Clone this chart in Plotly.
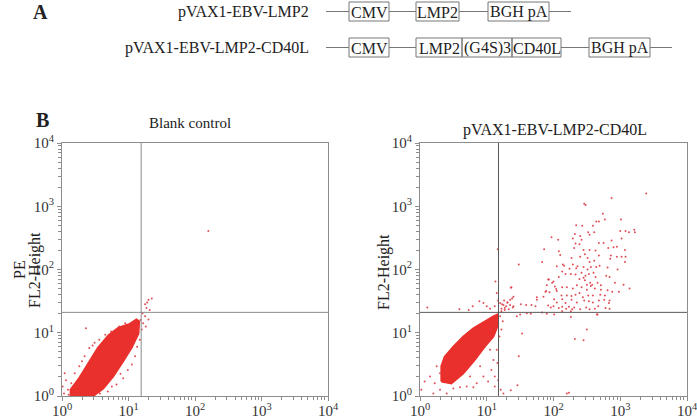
import plotly.graph_objects as go

W, H = 697, 418
SERIF = "Liberation Serif"

# ---------------- data (log10 decades of FL1 / FL2 height) ----------------
decade_ticks = [1, 10, 100, 1000, 10000]
decade_labels = ["10<sup>0</sup>", "10<sup>1</sup>", "10<sup>2</sup>", "10<sup>3</sup>", "10<sup>4</sup>"]

panel_titles = ["Blank control", "pVAX1-EBV-LMP2-CD40L"]

# quadrant gates (FL1, FL2)
gate_blank = (15.5, 21.0)
gate_cd40l = (15.0, 21.0)

# outline of the dense event cloud, blank control (log10 FL1, log10 FL2)
blank_cloud_log = [(0.13, 0.0), (0.32, 0.0), (0.47, 0.0), (0.62, 0.12), (0.77, 0.31), (0.92, 0.55),
                   (1.05, 0.77), (1.15, 0.99), (1.16, 1.18), (1.12, 1.21), (1.02, 1.14), (0.85, 1.08),
                   (0.70, 0.96), (0.54, 0.76), (0.39, 0.51), (0.25, 0.27), (0.13, 0.10)]

# sparse events, blank control
blank_events_log = [(1.25, 1.45), (1.30, 1.52), (1.35, 1.54), (1.27, 1.39), (1.21, 1.31), (1.25, 1.26),
                    (1.30, 1.21), (1.22, 1.15), (1.26, 1.10), (1.20, 1.05), (0.36, 1.07), (0.04, 0.36),
                    (0.06, 0.25), (0.01, 0.15), (0.09, 0.10), (0.03, 0.04), (0.19, 0.36), (0.26, 0.47),
                    (0.34, 0.63), (0.41, 0.76), (0.49, 0.84), (0.56, 0.89), (0.74, 1.02), (0.86, 1.10),
                    (0.99, 0.41), (0.92, 0.28), (0.82, 0.18), (0.69, 0.07), (1.10, 0.63), (1.13, 0.78),
                    (1.17, 0.89), (0.57, 0.04), (2.20, 2.61), (1.32, 1.36), (1.28, 1.48), (0.10, 0.02),
                    (0.14, 0.20), (0.30, 0.55), (0.46, 0.80), (0.65, 0.97), (0.95, 1.15), (1.05, 0.50),
                    (0.88, 0.35), (0.75, 0.15), (1.18, 1.20)]

# outline of the dense event cloud, pVAX1-EBV-LMP2-CD40L
cd40l_cloud_log = [(0.32, 0.23), (0.47, 0.20), (0.65, 0.36), (0.82, 0.57), (0.97, 0.78), (1.10, 0.94),
                   (1.17, 1.13), (1.16, 1.29), (1.10, 1.26), (0.97, 1.18), (0.80, 1.07), (0.65, 0.94),
                   (0.50, 0.78), (0.37, 0.62), (0.32, 0.47)]

# sparse events, pVAX1-EBV-LMP2-CD40L
cd40l_events_log = [
    (3.39, 3.20), (2.87, 3.13), (2.46, 3.04), (2.48, 3.02), (2.74, 2.88), (3.01, 2.79), (2.64, 2.76),
    (2.68, 2.76), (2.77, 2.79), (2.59, 2.69), (2.34, 2.70), (2.43, 2.69), (3.00, 2.61), (3.08, 2.61),
    (3.21, 2.63), (3.22, 2.59), (3.13, 2.59), (2.52, 2.59), (2.61, 2.59), (2.32, 2.56), (2.40, 2.53),
    (2.54, 2.55), (1.97, 2.51), (2.07, 2.47), (2.29, 2.49), (2.42, 2.47), (2.87, 2.46), (2.68, 2.42),
    (2.75, 2.42), (2.33, 2.41), (3.02, 2.49), (2.39, 2.40), (2.95, 2.36), (2.90, 2.35), (1.86, 2.32),
    (2.08, 2.29), (2.31, 2.34), (2.45, 2.31), (2.54, 2.31), (2.63, 2.30), (2.82, 2.34), (3.07, 2.31),
    (2.10, 2.23), (2.27, 2.18), (2.40, 2.20), (2.47, 2.24), (2.51, 2.18), (2.68, 2.22), (2.86, 2.22),
    (2.85, 2.17), (2.95, 2.20), (3.02, 2.20), (3.08, 2.20), (1.83, 2.12), (2.14, 2.08), (2.16, 2.06),
    (2.29, 2.08), (2.36, 2.05), (2.54, 2.12), (2.61, 2.14), (2.69, 2.06), (3.07, 2.12), (1.48, 2.08),
    (2.05, 2.05), (2.24, 2.01), (2.34, 2.02), (2.45, 2.04), (2.51, 2.00), (2.56, 2.04), (2.64, 2.04),
    (2.81, 2.03), (2.96, 2.00), (1.93, 1.84), (2.00, 1.81), (2.13, 1.97), (2.18, 1.93), (2.26, 1.93),
    (2.33, 1.92), (2.42, 1.95), (2.48, 1.90), (2.53, 1.93), (2.60, 1.95), (2.63, 1.88), (2.79, 1.90),
    (2.84, 1.88), (2.08, 1.88), (2.39, 1.85), (2.45, 1.87), (2.47, 1.83), (2.55, 1.79), (2.56, 1.74),
    (2.58, 1.76), (2.50, 1.76), (2.66, 1.79), (2.71, 1.75), (2.92, 1.79), (3.05, 1.76), (3.14, 1.70),
    (2.98, 1.65), (1.98, 1.79), (1.90, 1.75), (2.04, 1.69), (2.13, 1.72), (2.20, 1.72), (2.29, 1.70),
    (2.35, 1.75), (2.42, 1.72), (2.50, 1.68), (2.62, 1.70), (2.71, 1.68), (2.81, 1.67), (2.88, 1.65),
    (1.37, 1.72), (1.88, 1.65), (1.94, 1.64), (2.05, 1.66), (2.12, 1.59), (2.20, 1.59), (2.27, 1.58),
    (2.33, 1.60), (2.39, 1.63), (2.44, 1.56), (2.52, 1.59), (2.59, 1.59), (2.70, 1.60), (2.77, 1.59),
    (1.75, 1.56), (1.85, 1.57), (2.01, 1.53), (2.05, 1.48), (2.13, 1.53), (2.18, 1.47), (2.27, 1.52),
    (2.35, 1.48), (2.46, 1.51), (2.53, 1.50), (2.59, 1.48), (2.68, 1.51), (2.76, 1.52), (2.84, 1.51),
    (2.83, 1.47), (1.51, 1.45), (1.59, 1.44), (1.67, 1.44), (1.73, 1.42), (1.92, 1.43), (1.96, 1.40),
    (2.00, 1.42), (2.08, 1.39), (2.13, 1.41), (2.19, 1.38), (2.23, 1.41), (2.28, 1.37), (2.31, 1.40),
    (2.40, 1.37), (2.49, 1.40), (2.54, 1.37), (2.62, 1.38), (2.67, 1.42), (2.78, 1.39), (2.84, 1.38),
    (1.66, 1.30), (1.83, 1.32), (1.90, 1.30), (2.01, 1.29), (2.13, 1.34), (2.26, 1.34), (2.66, 1.29),
    (1.26, 1.51), (1.31, 1.48), (1.38, 1.54), (1.40, 1.57), (1.23, 1.45), (1.29, 1.42), (1.35, 1.44),
    (1.22, 1.38), (1.27, 1.39), (1.33, 1.37), (1.39, 1.40),
    (2.26, 1.25), (2.65, 1.29), (2.50, 1.05), (2.32, 0.90), (2.45, 0.88), (2.20, 0.04), (2.23, 0.05),
    (0.11, 1.40), (1.13, 1.81), (1.15, 1.63), (0.89, 1.50), (0.95, 1.47), (0.79, 1.42), (0.73, 1.36),
    (0.59, 1.37), (1.05, 1.38), (1.00, 1.42), (1.12, 1.42), (1.17, 1.51), (1.165, 2.32),
    (1.20, 1.47), (1.25, 1.44), (1.31, 1.48), (1.35, 1.52), (1.40, 1.42), (1.27, 1.36), (1.22, 1.34),
    (1.36, 1.71), (1.92, 1.84), (1.89, 1.66), (2.02, 1.73), (1.75, 1.52), (1.60, 1.31), (1.50, 1.29),
    (1.20, 1.26), (1.24, 1.18), (1.22, 1.05), (1.19, 0.94), (1.45, 1.26), (1.53, 0.99), (1.48, 0.63),
    (1.46, 0.17), (1.36, 0.09), (1.25, 0.04), (1.21, 0.10),
    (1.05, 0.73), (1.10, 0.57), (1.07, 0.41), (1.12, 0.31), (1.02, 0.23), (0.95, 0.31), (0.90, 0.47),
    (0.85, 0.20), (0.80, 0.14), (0.75, 0.31), (0.70, 0.15), (0.60, 0.14), (0.50, 0.12), (0.40, 0.04),
    (0.30, 0.10), (0.22, 0.20), (0.15, 0.31), (0.07, 0.23), (0.02, 0.10), (0.20, 0.04), (0.30, 0.36),
    (0.25, 0.47), (0.97, 0.78), (1.02, 0.94), (1.06, 1.05), (1.15, 0.73), (1.16, 0.52), (1.17, 0.25),
    (1.12, 0.15)]

# construct maps (element label, length on the map; "" = backbone line)
construct_names = ["pVAX1-EBV-LMP2", "pVAX1-EBV-LMP2-CD40L"]
construct1_elements = ["", "CMV", "", "LMP2", "", "BGH pA", ""]
construct1_lengths = [23, 40, 27, 43, 29, 61, 22]
construct2_elements = ["", "CMV", "", "LMP2", "(G4S)3", "CD40L", "", "BGH pA", ""]
construct2_lengths = [23, 40, 27, 46, 50, 49, 28, 61, 22]

# ---------------- figure ----------------
RED = "rgb(234,48,44)"
DOT = "rgba(222,60,70,0.9)"
AXC = "#8c8c8c"


def fx(px):
    return px / W


def fy(py):
    return 1 - py / H


fig = go.Figure()

panels = [
    ("x", "y", blank_cloud_log, blank_events_log, gate_blank, "#8a8a8a"),
    ("x2", "y2", cd40l_cloud_log, cd40l_events_log, gate_cd40l, "#5a5a5a"),
]
for xa, ya, cloud, events, gate, gcol in panels:
    fig.add_trace(go.Scatter(
        x=[10 ** a for a, b in cloud] + [10 ** cloud[0][0]],
        y=[10 ** b for a, b in cloud] + [10 ** cloud[0][1]],
        mode="lines", fill="toself", fillcolor=RED,
        line=dict(color=RED, width=2),
        xaxis=xa, yaxis=ya, hoverinfo="skip", showlegend=False))
    fig.add_trace(go.Scatter(
        x=[10 ** a for a, b in events], y=[10 ** b for a, b in events],
        mode="markers", marker=dict(color=DOT, size=2, line=dict(width=0)),
        xaxis=xa, yaxis=ya, showlegend=False))
    fig.add_trace(go.Scatter(x=[gate[0], gate[0]], y=[1, 10000], mode="lines",
                             line=dict(color=gcol, width=1), xaxis=xa, yaxis=ya,
                             hoverinfo="skip", showlegend=False))
    fig.add_trace(go.Scatter(x=[1, 10000], y=[gate[1], gate[1]], mode="lines",
                             line=dict(color=gcol, width=1), xaxis=xa, yaxis=ya,
                             hoverinfo="skip", showlegend=False))

minor_vals = [m * 10 ** d for d in range(4) for m in range(2, 10)]
axis_common = dict(
    type="log", range=[0, 4], showgrid=False, zeroline=False, automargin=False,
    showline=True, mirror=True, linecolor=AXC, linewidth=1,
    ticks="outside", ticklen=4, tickcolor=AXC, tickwidth=1,
    tickmode="array", tickvals=decade_ticks, ticktext=decade_labels,
    ticklabeloverflow="allow",
    tickfont=dict(family=SERIF, size=15, color="#333"),
    minor=dict(tickmode="array", tickvals=minor_vals, ticks="outside", ticklen=3,
               tickcolor=AXC, showgrid=False),
)
xaxis_extra = dict(ticklabelstandoff=-3)
ydom = [fy(396), fy(143)]
fig.update_layout(
    width=W, height=H, margin=dict(l=0, r=0, t=0, b=0, pad=0, autoexpand=False),
    paper_bgcolor="white", plot_bgcolor="white", showlegend=False,
    xaxis=dict(domain=[fx(62), fx(328)], anchor="y", **axis_common, **xaxis_extra),
    yaxis=dict(domain=ydom, anchor="x", **axis_common),
    xaxis2=dict(domain=[fx(420), fx(687)], anchor="y2", **axis_common, **xaxis_extra),
    yaxis2=dict(domain=ydom, anchor="x2", **axis_common),
)

ann = []
shapes = []


def text(px, py, s, size=16, anchor="center", bold=False, angle=0):
    ann.append(dict(x=fx(px), y=fy(py), xref="paper", yref="paper", text=("<b>%s</b>" % s) if bold else s,
                    showarrow=False, xanchor=anchor, yanchor="middle", textangle=angle,
                    font=dict(family=SERIF, size=size, color="#222")))


# panel letters
text(40, 12, "A", size=20, bold=True)
text(42, 120, "B", size=20, bold=True)

# panel titles
text(190, 123, panel_titles[0], size=15)
text(555, 130, panel_titles[1], size=16)

# y-axis titles
text(19, 270, "PE", size=16, angle=-90)
text(35, 270, "FL2-Height", size=16, angle=-90)
text(384, 272, "FL2-Height", size=16, angle=-90)

# construct maps
rows = [(construct_names[0], construct1_elements, construct1_lengths, 2, 21),
        (construct_names[1], construct2_elements, construct2_lengths, 38, 57)]
for name, elems, lens, top, bot in rows:
    cy = (top + bot) / 2
    text(311, cy, name, size=16, anchor="right")
    x = 326
    for lab, ln in zip(elems, lens):
        if lab == "":
            shapes.append(dict(type="line", xref="paper", yref="paper", x0=fx(x), x1=fx(x + ln),
                               y0=fy(cy), y1=fy(cy), line=dict(color="#777", width=1)))
        else:
            shapes.append(dict(type="rect", xref="paper", yref="paper", x0=fx(x), x1=fx(x + ln),
                               y0=fy(bot), y1=fy(top), line=dict(color="#777", width=1)))
            text(x + ln / 2, cy + 0.5, lab, size=16)
        x += ln

fig.update_layout(annotations=ann, shapes=shapes)
fig.write_html("out.html", config={"displayModeBar": False},
               post_script="document.body.style.margin='0';document.body.style.padding='0';"
                           "document.documentElement.style.overflow='hidden';")
